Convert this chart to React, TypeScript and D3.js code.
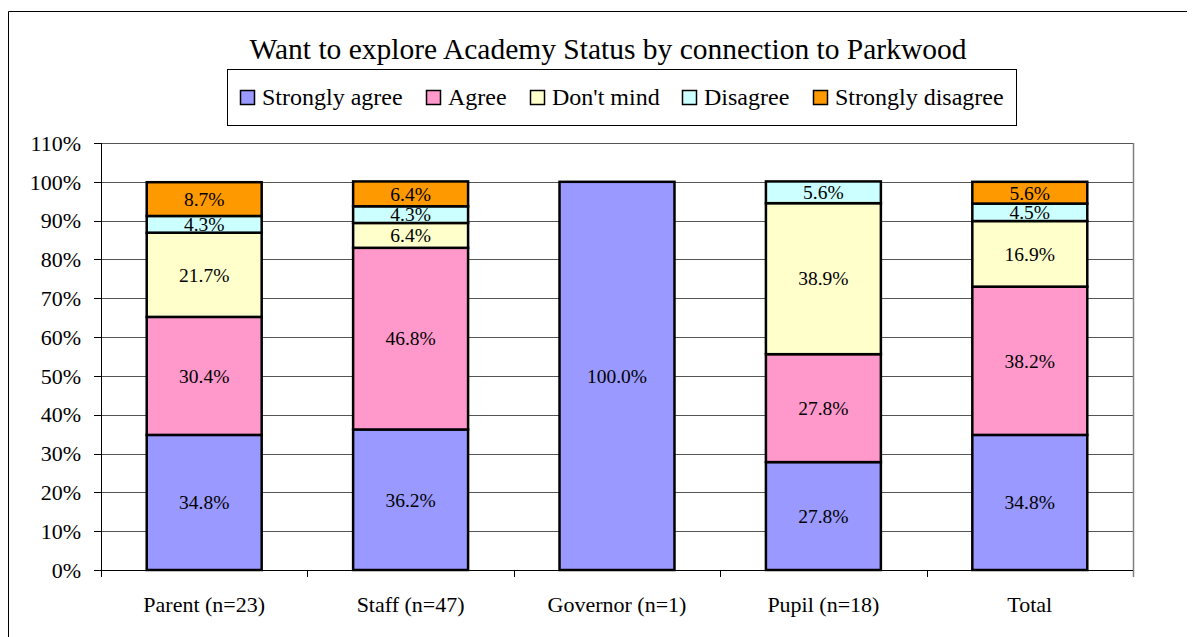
import React from "react";
import * as d3 from "d3";

const categories = ["Parent (n=23)", "Staff (n=47)", "Governor (n=1)", "Pupil (n=18)", "Total"];
const seriesNames = ["Strongly agree", "Agree", "Don't mind", "Disagree", "Strongly disagree"];
const seriesColors = ["#9999FF", "#FF99CC", "#FFFFCC", "#CCFFFF", "#FF9900"];

const stronglyAgree = [34.8, 36.2, 100.0, 27.8, 34.8];
const agree = [30.4, 46.8, 0, 27.8, 38.2];
const dontMind = [21.7, 6.4, 0, 38.9, 16.9];
const disagree = [4.3, 4.3, 0, 5.6, 4.5];
const stronglyDisagree = [8.7, 6.4, 0, 0, 5.6];

const yTicks = [0, 10, 20, 30, 40, 50, 60, 70, 80, 90, 100, 110];

const FONT = "Liberation Serif";

export default function App() {
  let layout = { width: 1195, height: 637, left: 101, right: 1133, top: 143, bottom: 570 };

  const series = [stronglyAgree, agree, dontMind, disagree, stronglyDisagree];
  const rows = categories.map((c, i) => {
    const row: any = { cat: c };
    seriesNames.forEach((s, j) => (row[s] = series[j][i]));
    return row;
  });
  const stacked = d3.stack().keys(seriesNames)(rows);

  const x = d3.scaleBand().domain(categories).range([layout.left, layout.right]).paddingInner(0.443).paddingOuter(0.2215);
  const xOuter = d3.scaleBand().domain(categories).range([layout.left, layout.right]);
  const y = d3.scaleLinear().domain([0, 110]).range([layout.bottom, layout.top]);

  const legendX = [240, 426, 530, 682, 813];

  return (
    <svg width={layout.width} height={layout.height}
      style={{ display: "block", margin: "-8px 0 0 -8px" }}>
      {/* outer frame, right and bottom edges fall outside the picture */}
      <path d="M8.5,640 V11.5 H1195" fill="none" stroke="#000" />

      <text x={608} y={59} textAnchor="middle" fontFamily={FONT} fontSize={29.5}>
        Want to explore Academy Status by connection to Parkwood
      </text>

      {/* legend */}
      <rect x={227.5} y={69.5} width={789} height={56} fill="white" stroke="#000" />
      {seriesNames.map((s, i) => (
        <g key={s}>
          <rect x={legendX[i] + 0.5} y={90.5} width={14} height={14}
            fill={seriesColors[i]} stroke="#000" strokeWidth={1.5} />
          <text x={legendX[i] + 22} y={105} fontFamily={FONT} fontSize={24}>{s}</text>
        </g>
      ))}

      {/* gridlines */}
      {yTicks.slice(1).map(t => (
        <line key={t} x1={layout.left} x2={layout.right}
          y1={Math.round(y(t)) + 0.5} y2={Math.round(y(t)) + 0.5}
          stroke="#555" />
      ))}

      {/* right edge of plot area */}
      <line x1={layout.right + 0.5} x2={layout.right + 0.5} y1={layout.top} y2={layout.bottom + 7}
        stroke="#808080" strokeWidth={1.5} />

      {/* y axis */}
      <line x1={layout.left + 0.5} x2={layout.left + 0.5} y1={layout.top} y2={layout.bottom + 7} stroke="#000" />
      {yTicks.map(t => (
        <g key={t}>
          <line x1={layout.left - 7} x2={layout.left} y1={Math.round(y(t)) + 0.5} y2={Math.round(y(t)) + 0.5} stroke="#000" />
          <text x={layout.left - 20} y={y(t)} dy="0.35em" textAnchor="end" fontFamily={FONT} fontSize={22}>{`${t}%`}</text>
        </g>
      ))}

      {/* bars */}
      {stacked.map((layer, i) => (
        <g key={layer.key} fill={seriesColors[i]}>
          {layer.filter(v => v[1] - v[0] > 0).map((v: any) => (
            <rect key={v.data.cat} x={x(v.data.cat)} width={x.bandwidth()}
              y={y(v[1])} height={y(v[0]) - y(v[1])}
              stroke="#000" strokeWidth={2.5} />
          ))}
        </g>
      ))}
      {stacked.map(layer => (
        <g key={layer.key + "-lab"}>
          {layer.filter(v => v[1] - v[0] > 0).map((v: any) => (
            <text key={v.data.cat} x={x(v.data.cat)! + x.bandwidth() / 2}
              y={(y(v[0]) + y(v[1])) / 2} dy="0.35em" textAnchor="middle" fontFamily={FONT} fontSize={19.5}>
              {`${(v[1] - v[0]).toFixed(1)}%`}
            </text>
          ))}
        </g>
      ))}

      {/* x axis */}
      <line x1={layout.left} x2={layout.right} y1={layout.bottom + 0.5} y2={layout.bottom + 0.5} stroke="#000" />
      {categories.map(c => (
        <line key={c} x1={Math.round(xOuter(c)!) + 0.5} x2={Math.round(xOuter(c)!) + 0.5}
          y1={layout.bottom} y2={layout.bottom + 7} stroke="#000" />
      ))}
      {categories.map(c => (
        <text key={c + "-t"} x={xOuter(c)! + xOuter.bandwidth() / 2} y={612} textAnchor="middle" fontFamily={FONT} fontSize={22}>{c}</text>
      ))}
    </svg>
  );
}
